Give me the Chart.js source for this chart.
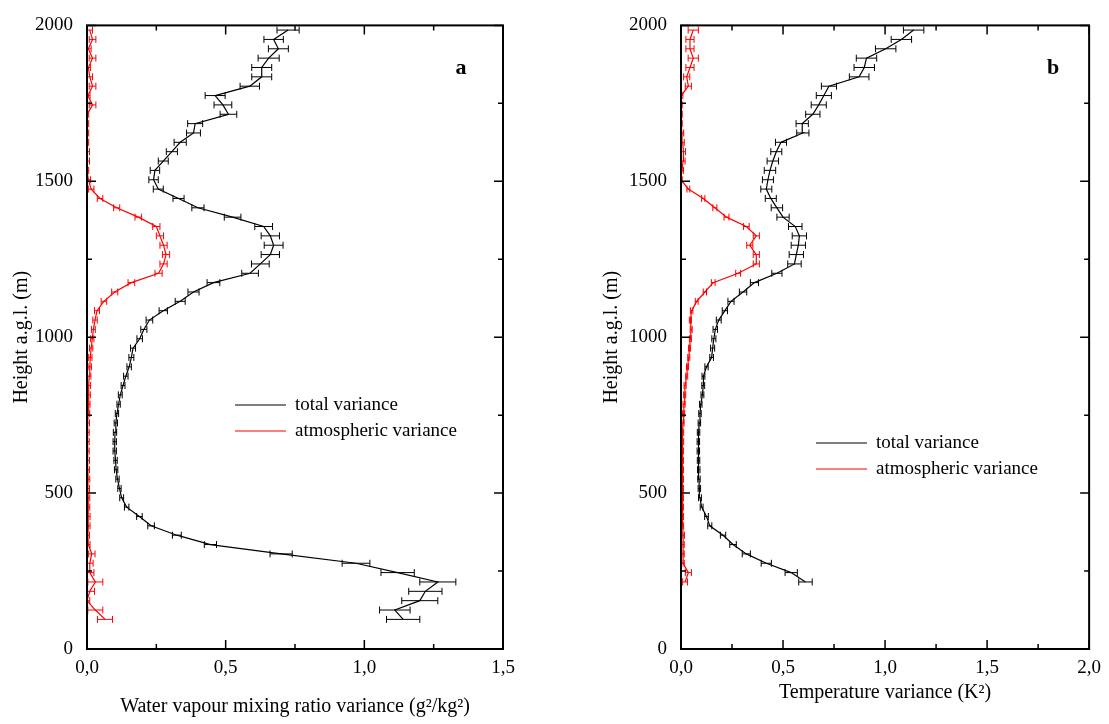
<!DOCTYPE html>
<html>
<head>
<meta charset="utf-8">
<title>Variance profiles</title>
<script src="https://cdn.jsdelivr.net/npm/chart.js@4.4.0/dist/chart.umd.min.js"></script>
<style>
    body { margin: 0; background: #fff; width: 1109px; height: 724px; overflow: hidden; position: relative; }
    canvas { position: absolute; top: 0; }
    #panelA { left: 0; }
    #panelB { left: 555px; }
</style>
</head>
<body>
<canvas id="panelA" width="555" height="724"></canvas>
<canvas id="panelB" width="554" height="724"></canvas>
<script>
// heights of the retrieval levels (m a.g.l.)
const heights = [
    95, 125, 155, 185, 215, 245, 275, 305,
    335, 365, 395, 425, 455, 485, 515, 545,
    575, 605, 635, 665, 695, 725, 755, 785,
    815, 845, 875, 905, 935, 965, 995, 1025,
    1055, 1085, 1115, 1145, 1175, 1205, 1235, 1265,
    1295, 1325, 1355, 1385, 1415, 1445, 1475, 1505,
    1535, 1565, 1595, 1625, 1655, 1685, 1715, 1745,
    1775, 1805, 1835, 1865, 1895, 1925, 1955, 1985
];

// temperature profile starts at 215 m
const heightsT = [
    215, 245, 275, 305, 335, 365, 395, 425,
    455, 485, 515, 545, 575, 605, 635, 665,
    695, 725, 755, 785, 815, 845, 875, 905,
    935, 965, 995, 1025, 1055, 1085, 1115, 1145,
    1175, 1205, 1235, 1265, 1295, 1325, 1355, 1385,
    1415, 1445, 1475, 1505, 1535, 1565, 1595, 1625,
    1655, 1685, 1715, 1745, 1775, 1805, 1835, 1865,
    1895, 1925, 1955, 1985
];

// water vapour mixing ratio variance (g2/kg2)
const wvTotal = [
    1.14, 1.11, 1.20, 1.22, 1.265, 1.12, 0.97, 0.70,
    0.445, 0.324, 0.231, 0.189, 0.143, 0.125, 0.117, 0.110,
    0.105, 0.103, 0.100, 0.100, 0.101, 0.104, 0.108, 0.114,
    0.120, 0.130, 0.140, 0.152, 0.160, 0.166, 0.190, 0.205,
    0.225, 0.275, 0.336, 0.384, 0.456, 0.588, 0.625, 0.661,
    0.673, 0.661, 0.637, 0.525, 0.400, 0.330, 0.257, 0.240,
    0.245, 0.275, 0.306, 0.336, 0.384, 0.390, 0.510, 0.490,
    0.462, 0.587, 0.630, 0.630, 0.655, 0.690, 0.673, 0.725
];
const wvTotalErr = [
    0.060, 0.055, 0.065, 0.060, 0.065, 0.060, 0.050, 0.040,
    0.022, 0.016, 0.012, 0.010, 0.008, 0.007, 0.006, 0.006,
    0.006, 0.006, 0.006, 0.006, 0.006, 0.006, 0.006, 0.006,
    0.007, 0.007, 0.008, 0.008, 0.009, 0.009, 0.010, 0.011,
    0.012, 0.015, 0.018, 0.020, 0.023, 0.030, 0.032, 0.033,
    0.034, 0.033, 0.032, 0.030, 0.022, 0.020, 0.018, 0.017,
    0.017, 0.018, 0.020, 0.022, 0.025, 0.027, 0.030, 0.032,
    0.036, 0.035, 0.036, 0.036, 0.038, 0.036, 0.035, 0.040
];
const wvAtmo = [
    0.065, 0.030, 0.000, 0.010, 0.030, 0.010, 0.010, 0.017,
    0.005, 0.003, 0.005, 0.005, 0.004, 0.004, 0.003, 0.004,
    0.003, 0.003, 0.002, 0.002, 0.002, 0.003, 0.004, 0.005,
    0.006, 0.007, 0.008, 0.010, 0.012, 0.015, 0.019, 0.023,
    0.029, 0.036, 0.061, 0.100, 0.160, 0.258, 0.276, 0.285,
    0.276, 0.263, 0.250, 0.185, 0.107, 0.047, 0.015, 0.005,
    0.000, 0.003, 0.003, 0.000, 0.000, 0.000, 0.000, 0.020,
    0.003, 0.020, 0.010, 0.005, 0.020, 0.005, 0.020, 0.010
];
const wvAtmoErr = [
    0.027, 0.027, 0.010, 0.017, 0.027, 0.015, 0.012, 0.012,
    0.006, 0.006, 0.006, 0.006, 0.006, 0.006, 0.006, 0.006,
    0.006, 0.006, 0.006, 0.006, 0.006, 0.006, 0.006, 0.006,
    0.006, 0.006, 0.006, 0.006, 0.006, 0.006, 0.006, 0.007,
    0.008, 0.009, 0.010, 0.011, 0.012, 0.013, 0.013, 0.013,
    0.013, 0.013, 0.013, 0.012, 0.011, 0.010, 0.010, 0.008,
    0.006, 0.006, 0.006, 0.006, 0.006, 0.006, 0.006, 0.012,
    0.008, 0.012, 0.010, 0.008, 0.012, 0.010, 0.012, 0.010
];

// temperature variance (K2)
const tTotal = [
    0.610, 0.540, 0.418, 0.320, 0.255, 0.206, 0.141, 0.125,
    0.101, 0.093, 0.090, 0.088, 0.087, 0.086, 0.085, 0.085,
    0.086, 0.090, 0.093, 0.097, 0.105, 0.109, 0.110, 0.125,
    0.150, 0.155, 0.161, 0.168, 0.185, 0.215, 0.245, 0.304,
    0.360, 0.470, 0.556, 0.565, 0.575, 0.580, 0.560, 0.500,
    0.470, 0.440, 0.418, 0.426, 0.436, 0.450, 0.467, 0.490,
    0.597, 0.594, 0.646, 0.675, 0.700, 0.725, 0.873, 0.898,
    0.909, 1.003, 1.080, 1.140
];
const tTotalErr = [
    0.033, 0.030, 0.025, 0.020, 0.016, 0.013, 0.010, 0.009,
    0.007, 0.007, 0.006, 0.006, 0.006, 0.006, 0.006, 0.006,
    0.006, 0.006, 0.006, 0.006, 0.007, 0.007, 0.007, 0.008,
    0.009, 0.010, 0.010, 0.011, 0.012, 0.013, 0.015, 0.018,
    0.020, 0.025, 0.033, 0.035, 0.035, 0.035, 0.033, 0.030,
    0.028, 0.027, 0.027, 0.027, 0.028, 0.028, 0.027, 0.027,
    0.030, 0.030, 0.035, 0.037, 0.037, 0.037, 0.048, 0.050,
    0.050, 0.050, 0.050, 0.050
];
const tAtmo = [
    0.020, 0.036, 0.010, 0.010, 0.010, 0.011, 0.008, 0.007,
    0.007, 0.007, 0.007, 0.007, 0.007, 0.007, 0.007, 0.008,
    0.008, 0.010, 0.013, 0.015, 0.018, 0.020, 0.028, 0.032,
    0.038, 0.042, 0.046, 0.050, 0.046, 0.052, 0.077, 0.117,
    0.158, 0.280, 0.369, 0.369, 0.337, 0.369, 0.320, 0.223,
    0.166, 0.109, 0.036, 0.000, 0.005, 0.010, 0.012, 0.008,
    0.005, 0.000, 0.000, 0.000, 0.003, 0.036, 0.028, 0.044,
    0.060, 0.044, 0.044, 0.060
];
const tAtmoErr = [
    0.012, 0.015, 0.006, 0.006, 0.006, 0.006, 0.005, 0.005,
    0.005, 0.005, 0.005, 0.005, 0.005, 0.005, 0.005, 0.005,
    0.005, 0.005, 0.005, 0.005, 0.005, 0.005, 0.005, 0.005,
    0.005, 0.005, 0.005, 0.005, 0.005, 0.006, 0.007, 0.008,
    0.009, 0.012, 0.015, 0.015, 0.015, 0.015, 0.014, 0.012,
    0.010, 0.008, 0.007, 0.006, 0.007, 0.010, 0.010, 0.008,
    0.008, 0.006, 0.006, 0.006, 0.006, 0.015, 0.015, 0.020,
    0.025, 0.020, 0.020, 0.025
];

// axis ticks
const yTicks = [0, 500, 1000, 1500, 2000];
const yMinor = [250, 750, 1250, 1750];
const xTicksA = [0, 0.5, 1.0, 1.5];
const xMinorA = [0.25, 0.75, 1.25];
const xTicksB = [0, 0.5, 1.0, 1.5, 2.0];
const xMinorB = [0.25, 0.75, 1.25, 1.75];

const serif = 'Liberation Serif';

// frame with inward ticks, error bars, legend and panel letter
const panelDecor = {
    id: 'panelDecor',
    afterDatasetsDraw(chart) {
        const ctx = chart.ctx;
        const area = chart.chartArea;
        const xs = chart.scales.x;
        ctx.save();
        ctx.beginPath();
        ctx.rect(area.left, area.top, area.right - area.left, area.bottom - area.top);
        ctx.clip();
        chart.data.datasets.forEach(function (ds, di) {
            const meta = chart.getDatasetMeta(di);
            ctx.strokeStyle = ds.borderColor;
            ctx.lineWidth = 1;
            ds.data.forEach(function (p, i) {
                const e = ds.errors[i];
                const y = meta.data[i].y;
                const x1 = xs.getPixelForValue(p.x - e);
                const x2 = xs.getPixelForValue(p.x + e);
                ctx.beginPath();
                ctx.moveTo(x1, y); ctx.lineTo(x2, y);
                ctx.moveTo(x1, y - 3.5); ctx.lineTo(x1, y + 3.5);
                ctx.moveTo(x2, y - 3.5); ctx.lineTo(x2, y + 3.5);
                ctx.stroke();
            });
        });
        ctx.restore();
    },
    afterDraw(chart, args, opts) {
        const ctx = chart.ctx;
        const a = chart.chartArea;
        const xs = chart.scales.x;
        const ys = chart.scales.y;
        ctx.save();
        ctx.strokeStyle = '#000';
        ctx.lineWidth = 1.5;
        function tickX(v, len) {
            const x = xs.getPixelForValue(v);
            ctx.beginPath();
            ctx.moveTo(x, a.bottom); ctx.lineTo(x, a.bottom - len);
            ctx.moveTo(x, a.top); ctx.lineTo(x, a.top + len);
            ctx.stroke();
        }
        function tickY(v, len) {
            const y = ys.getPixelForValue(v);
            ctx.beginPath();
            ctx.moveTo(a.left, y); ctx.lineTo(a.left + len, y);
            ctx.moveTo(a.right, y); ctx.lineTo(a.right - len, y);
            ctx.stroke();
        }
        opts.xTicks.forEach(v => tickX(v, 9));
        opts.xMinor.forEach(v => tickX(v, 5));
        yTicks.forEach(v => tickY(v, 9));
        yMinor.forEach(v => tickY(v, 5));

        ctx.lineWidth = 2;
        ctx.strokeRect(a.left, a.top, a.right - a.left, a.bottom - a.top);

        // legend
        ctx.font = '19px "' + serif + '"';
        ctx.textBaseline = 'middle';
        ctx.fillStyle = '#000';
        chart.data.datasets.forEach(function (ds, i) {
            const y = opts.legendY + i * 26;
            ctx.strokeStyle = ds.borderColor;
            ctx.lineWidth = 1.2;
            ctx.beginPath();
            ctx.moveTo(opts.legendX, y);
            ctx.lineTo(opts.legendX + 51, y);
            ctx.stroke();
            ctx.fillText(ds.label, opts.legendX + 60, y);
        });

        // panel letter
        ctx.font = 'bold 22px "' + serif + '"';
        ctx.textAlign = 'center';
        ctx.fillText(opts.letter, opts.letterX, opts.letterY);
        ctx.restore();
    }
};

function points(hs, vals) {
    return hs.map((h, i) => ({ x: vals[i], y: h }));
}

function makePanel(id, p) {
    const tickFont = { family: serif, size: 19 };
    return new Chart(document.getElementById(id), {
        type: 'scatter',
        data: {
            datasets: [
                {
                    label: 'total variance',
                    data: points(p.heights, p.total),
                    errors: p.totalErr,
                    showLine: true,
                    borderColor: '#000000',
                    borderWidth: 1.2,
                    pointRadius: 0,
                    tension: 0
                },
                {
                    label: 'atmospheric variance',
                    data: points(p.heights, p.atmo),
                    errors: p.atmoErr,
                    showLine: true,
                    borderColor: '#ff0000',
                    borderWidth: 1.2,
                    pointRadius: 0,
                    tension: 0
                }
            ]
        },
        options: {
            responsive: false,
            animation: false,
            events: [],
            layout: { padding: { left: 0, right: p.padRight, top: 21, bottom: 0 } },
            plugins: {
                legend: { display: false },
                tooltip: { enabled: false },
                panelDecor: p.decor
            },
            scales: {
                x: {
                    type: 'linear',
                    min: 0,
                    max: p.xMax,
                    grid: { display: false, drawTicks: false },
                    border: { display: false },
                    afterBuildTicks: s => { s.ticks = p.xTicks.map(v => ({ value: v })); },
                    afterFit: s => { s.height = 75; },
                    ticks: {
                        color: '#000',
                        font: tickFont,
                        padding: 8,
                        maxRotation: 0,
                        callback: v => v.toFixed(1).replace('.', ',')
                    },
                    title: {
                        display: true,
                        text: p.xTitle,
                        color: '#000',
                        font: { family: serif, size: 20 },
                        padding: { top: 0, bottom: p.xTitlePad }
                    }
                },
                y: {
                    type: 'linear',
                    min: 0,
                    max: 2000,
                    grid: { display: false, drawTicks: false },
                    border: { display: false },
                    afterBuildTicks: s => { s.ticks = yTicks.map(v => ({ value: v })); },
                    afterFit: s => { s.width = p.yWidth; },
                    ticks: {
                        color: '#000',
                        font: tickFont,
                        padding: 14,
                        callback: v => String(v)
                    },
                    title: {
                        display: true,
                        text: 'Height a.g.l. (m)',
                        color: '#000',
                        font: { family: serif, size: 20 },
                        padding: { top: p.yTitlePad, bottom: 0 }
                    }
                }
            }
        },
        plugins: [panelDecor]
    });
}

makePanel('panelA', {
    heights: heights,
    total: wvTotal, totalErr: wvTotalErr,
    atmo: wvAtmo, atmoErr: wvAtmoErr,
    xMax: 1.5, xTicks: xTicksA,
    xTitle: 'Water vapour mixing ratio variance (g²/kg²)',
    yWidth: 87, padRight: 52, yTitlePad: 10, xTitlePad: 5,
    decor: { xTicks: xTicksA, xMinor: xMinorA, legendX: 235, legendY: 405, letter: 'a', letterX: 461, letterY: 68 }
});

makePanel('panelB', {
    heights: heightsT,
    total: tTotal, totalErr: tTotalErr,
    atmo: tAtmo, atmoErr: tAtmoErr,
    xMax: 2.0, xTicks: xTicksB,
    xTitle: 'Temperature variance (K²)',
    yWidth: 126, padRight: 18, yTitlePad: 45, xTitlePad: 19,
    decor: { xTicks: xTicksB, xMinor: xMinorB, legendX: 261, legendY: 443, letter: 'b', letterX: 498, letterY: 68 }
});
</script>
</body>
</html>
